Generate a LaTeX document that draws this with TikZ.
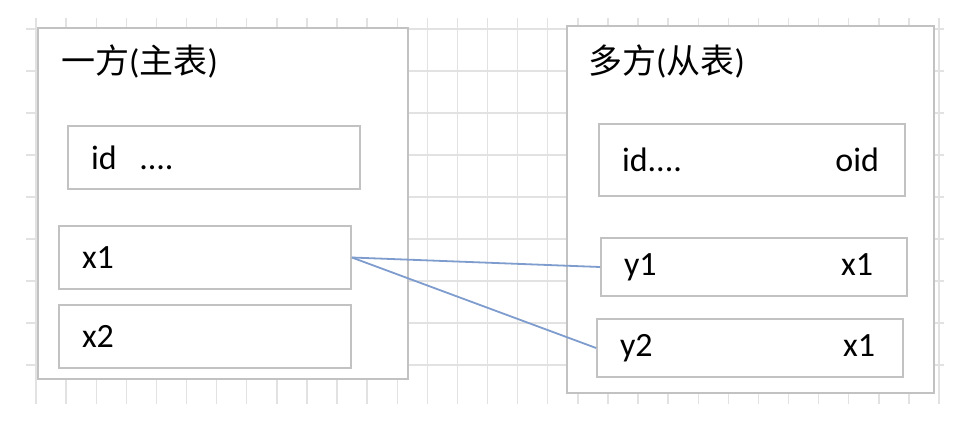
\documentclass[tikz,border=0pt]{standalone}
\usepackage{fontspec}
\setmainfont{Carlito}
\newfontfamily\cjk{Noto Sans CJK SC}
\usepackage{xcolor}
\usepackage{tikz}
\usetikzlibrary{positioning}
\definecolor{gridgray}{HTML}{E2E2E2}
\definecolor{boxgray}{HTML}{C2C2C2}
\definecolor{linkblue}{HTML}{7E9CCD}
\tikzstyle{gridline} = [draw=gridgray, line width=1.4pt]
\tikzstyle{table} = [rectangle, draw=boxgray, line width=1.8pt, fill=white,
    inner sep=0pt]
\tikzstyle{field} = [rectangle, draw=boxgray, line width=1.8pt, fill=white,
    inner xsep=23pt, inner ysep=0pt, align=left]
\tikzstyle{shortfield} = [field, text width=246pt, minimum height=63pt]
\tikzstyle{longfield} = [field, text width=260pt, minimum height=58pt]
\tikzstyle{title} = [anchor=west, inner sep=0pt]
\tikzstyle{link} = [draw=linkblue, line width=1.8pt]

\begin{document}
\begin{tikzpicture}[x=1pt, y=-1pt, font=\fontsize{34}{38}\selectfont]
  \useasboundingbox (0,0) rectangle (977,434);
  % Background grid
  \foreach \i in {0,...,30}
    \path [gridline] ({36+30.1*\i},18) -- ({36+30.1*\i},404);
  \foreach \j in {0,...,8}
    \path [gridline] (26,{29+42*\j}) -- (944,{29+42*\j});

  % Place tables
  \node [table, minimum width=370pt, minimum height=351pt] (one) at (223,203.5) {};
  \node [table, minimum width=367pt, minimum height=367pt] (many) at (750.5,209.5) {};

  \node [title] (onetitle) at (61,61) {{\cjk 一方}({\cjk 主表})};
  \node [title] (manytitle) at (588,61) {{\cjk 多方}({\cjk 从表})};

  % Fields of the one side
  \node [shortfield] (oneid) at (214,157.5) {id\ \ ....};
  \node [shortfield] (x1) at (205,257.5) {x1};
  \node [shortfield] (x2) at (205,336.5) {x2};

  % Fields of the many side
  \node [longfield, minimum height=72pt] (manyid) at (752,160) {id....\hfill oid\kern3pt};
  \node [longfield] (y1) at (754,267) {y1\hfill x1\kern11pt};
  \node [longfield] (y2) at (750,348) {y2\hfill x1\kern5pt};

  % Links
  \path [link] (x1.east) -- (y1.west);
  \path [link] (x1.east) -- (y2.west);

\end{tikzpicture}
\end{document}
